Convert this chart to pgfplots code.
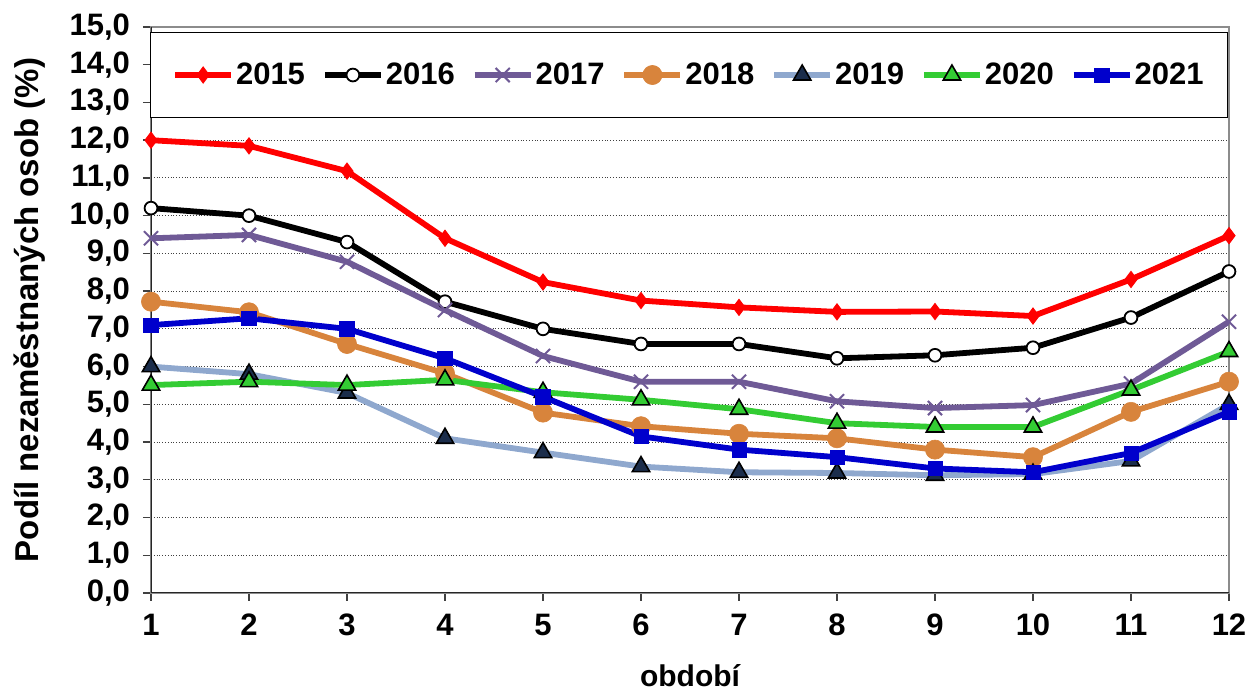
\documentclass[border=0pt]{standalone}
\usepackage{fontspec}
\setmainfont{Liberation Sans}
\usepackage{pgfplots}
\pgfplotsset{compat=1.18}
\definecolor{c15}{HTML}{FF0000}
\definecolor{c16}{HTML}{000000}
\definecolor{c17}{HTML}{6F5A96}
\definecolor{c18}{HTML}{D8843C}
\definecolor{c19}{HTML}{8FA8CE}
\definecolor{c19m}{HTML}{1B2D4B}
\definecolor{c20}{HTML}{33CC33}
\definecolor{c21}{HTML}{0000CC}
\begin{document}
\begin{tikzpicture}
\path[use as bounding box] (-75.5pt,-49pt) rectangle (549pt,296.5pt);
\begin{axis}[
  anchor=south west, at={(0,0)},
  scale only axis, width=539pt, height=283pt,
  xmin=1, xmax=12, ymin=0, ymax=15,
  xtick={1,...,12}, xticklabels={1,2,3,4,5,6,7,8,9,10,11,12},
  ytick={0,1,...,15},
  ymajorgrids, grid style={black!75, densely dotted, line width=0.5pt},
  axis line style={draw=black!45, line width=1pt},
  tick style={black!75, line width=0.7pt},
  tick align=outside, major tick length=4pt,
  xtick pos=bottom, ytick pos=left,
  tick label style={font=\bfseries\fontsize{15.5}{17}\selectfont},
  yticklabel style={/pgf/number format/fixed, /pgf/number format/fixed zerofill, /pgf/number format/precision=1, /pgf/number format/use comma, /pgf/number format/assume math mode=true, xshift=-3pt},
  xticklabel style={yshift=-3pt},
  ylabel={Podíl nezaměstnaných osob (\%)},
  ylabel style={font=\bfseries\fontsize{16.5}{18}\selectfont, at={(axis description cs:-0.1122,0.5)}, anchor=center},
  xlabel={období},
  xlabel style={font=\bfseries\fontsize{15}{17}\selectfont, at={(axis description cs:0.5,-0.166)}, anchor=base},
  legend columns=7,
  legend style={draw=black, line width=0.6pt, at={(axis description cs:0.499,0.991)}, anchor=north,
    inner xsep=11pt, inner ysep=14pt,
    font=\bfseries\fontsize{15.5}{17}\selectfont,
    nodes={inner sep=1pt},
    /tikz/every even column/.append style={column sep=7.5pt}},
  legend image code/.code={\draw[mark repeat=2,mark phase=2] plot coordinates {(0pt,0pt) (14pt,0pt) (28pt,0pt)};},
  every axis plot/.append style={line width=2.9pt},
]
\draw[black!85, line width=1pt] (rel axis cs:0,1) -- (rel axis cs:0,0) -- (rel axis cs:1,0);
\addplot[c15, mark=diamond*, mark size=4pt, mark options={fill=c15, draw=c15, line width=0.5pt}] coordinates {
(1,12.0)(2,11.85)(3,11.18)(4,9.4)(5,8.24)(6,7.75)(7,7.57)(8,7.45)(9,7.46)(10,7.34)(11,8.31)(12,9.47)};
\addlegendentry{2015}
\addplot[c16, mark=*, mark size=3.2pt, mark options={fill=white, draw=black, line width=0.9pt}] coordinates {
(1,10.2)(2,10.0)(3,9.3)(4,7.72)(5,7.0)(6,6.6)(7,6.6)(8,6.22)(9,6.3)(10,6.5)(11,7.3)(12,8.52)};
\addlegendentry{2016}
\addplot[c17, mark=x, mark size=5pt, mark options={draw=c17, line width=1pt}] coordinates {
(1,9.4)(2,9.49)(3,8.78)(4,7.5)(5,6.28)(6,5.6)(7,5.6)(8,5.08)(9,4.9)(10,4.98)(11,5.55)(12,7.19)};
\addlegendentry{2017}
\addplot[c18, mark=*, mark size=4.8pt, mark options={fill=c18, draw=c18, line width=0.3pt}] coordinates {
(1,7.72)(2,7.44)(3,6.6)(4,5.82)(5,4.78)(6,4.42)(7,4.22)(8,4.1)(9,3.8)(10,3.6)(11,4.8)(12,5.6)};
\addlegendentry{2018}
\addplot[c19, mark=triangle*, mark size=5pt, mark options={fill=c19m, draw=black, line width=0.8pt}] coordinates {
(1,6.0)(2,5.8)(3,5.3)(4,4.1)(5,3.72)(6,3.35)(7,3.2)(8,3.18)(9,3.12)(10,3.15)(11,3.5)(12,5.0)};
\addlegendentry{2019}
\addplot[c20, mark=triangle*, mark size=5pt, mark options={fill=c20, draw=black, line width=0.8pt}] coordinates {
(1,5.51)(2,5.6)(3,5.51)(4,5.65)(5,5.32)(6,5.12)(7,4.87)(8,4.5)(9,4.4)(10,4.4)(11,5.38)(12,6.4)};
\addlegendentry{2020}
\addplot[c21, mark=square*, mark size=3.6pt, mark options={fill=c21, draw=c21, line width=0.3pt}] coordinates {
(1,7.1)(2,7.28)(3,7.0)(4,6.22)(5,5.2)(6,4.15)(7,3.8)(8,3.6)(9,3.3)(10,3.2)(11,3.71)(12,4.8)};
\addlegendentry{2021}
\end{axis}
\end{tikzpicture}
\end{document}
